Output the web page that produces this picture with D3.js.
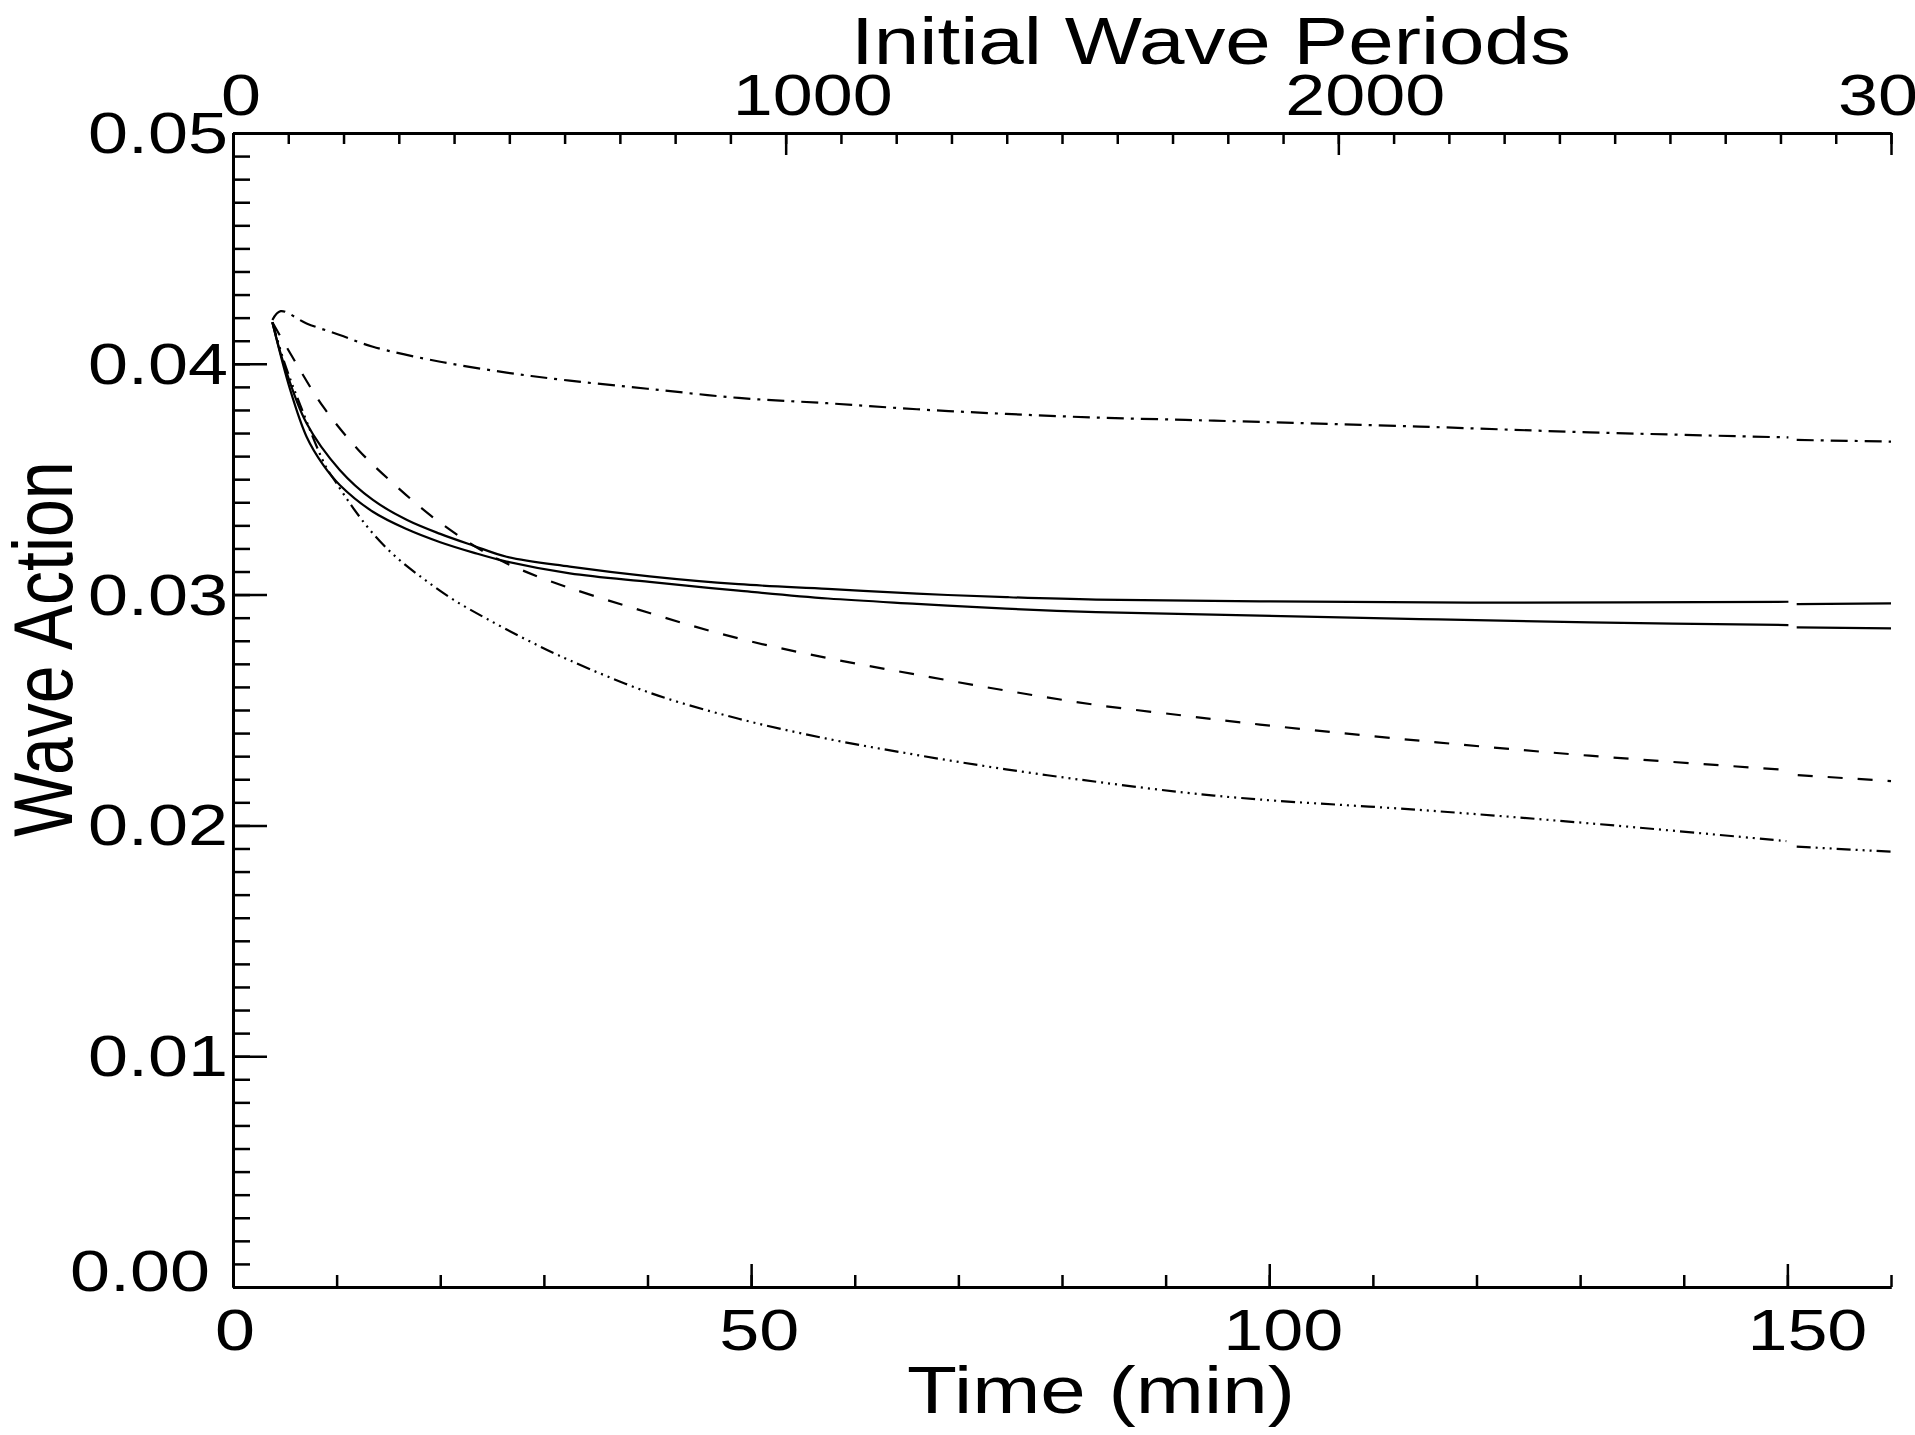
<!DOCTYPE html>
<html>
<head>
<meta charset="utf-8">
<script src="https://cdn.jsdelivr.net/npm/d3@7"></script>
<style>
  html, body { margin: 0; padding: 0; background: #fff; }
  svg { display: block; }
  text { font-family: "Liberation Sans", Arial, Helvetica, sans-serif; fill: #000; }
</style>
</head>
<body>
<svg id="chart" width="1915" height="1435"></svg>
<script>
// ---------------- data ----------------
const xTickLabels = [0, 50, 100, 150];          // Time (min)
const topTickLabels = [0, 1000, 2000, 3000];    // Initial wave periods
const yTickLabels = [0.00, 0.01, 0.02, 0.03, 0.04, 0.05];

// dash-dot series (top curve)
const tDashDot = [3.8, 4.6, 7.1, 10.3, 13.5, 20.0, 26.4, 32.5, 40.2, 48.8, 57.4, 66.0, 74.6, 83.3, 91.9, 99.1, 114.5, 130.9, 150.1, 150.9, 160.0];
const vDashDot = [0.0419, 0.04228, 0.04175, 0.04125, 0.04074, 0.04009, 0.03962, 0.03927, 0.03891, 0.03852, 0.03829, 0.03803, 0.03783, 0.03767, 0.03757, 0.03748, 0.03728, 0.03703, 0.03681, 0.03670, 0.03663];

// solid series, upper
const tSolidA = [3.8, 4.9, 7.1, 10.3, 13.5, 16.8, 20.0, 23.2, 26.4, 32.5, 40.2, 48.8, 57.4, 66.0, 74.6, 83.3, 99.1, 122.7, 150.1, 150.9, 160.0];
const vSolidA = [0.0418, 0.0400, 0.03742, 0.0354, 0.0341, 0.03323, 0.03263, 0.03212, 0.03164, 0.03121, 0.03079, 0.03045, 0.03025, 0.03004, 0.02989, 0.02978, 0.02971, 0.02965, 0.02969, 0.02959, 0.02962];

// solid series, lower
const tSolidB = [3.8, 5.5, 7.1, 8.7, 10.3, 13.5, 16.8, 20.0, 23.2, 26.4, 32.5, 40.2, 48.8, 57.4, 66.0, 74.6, 83.3, 99.1, 114.5, 130.9, 150.1, 150.9, 160.0];
const vSolidB = [0.0418, 0.0389, 0.03684, 0.03562, 0.03475, 0.03359, 0.03283, 0.03227, 0.03182, 0.03143, 0.03092, 0.03055, 0.03017, 0.02983, 0.0296, 0.02939, 0.02924, 0.02909, 0.02894, 0.0288, 0.02868, 0.02858, 0.02854];

// dashed series
const tDashed = [3.8, 6.0, 8.7, 12.1, 15.8, 19.65, 24.5, 29.6, 40.2, 48.8, 57.4, 66.0, 74.6, 83.3, 91.9, 99.1, 114.5, 130.9, 150.0, 151.0, 160.0];
const vDashed = [0.0418, 0.04009, 0.03814, 0.03627, 0.03468, 0.03323, 0.03179, 0.03075, 0.0292, 0.0281, 0.02725, 0.02653, 0.02584, 0.02522, 0.02475, 0.02437, 0.02367, 0.02302, 0.0224, 0.02218, 0.02192];

// dash-dot-dot-dot series (bottom curve)
const tDashDot3 = [3.8, 5.0, 6.5, 8.9, 10.0, 11.6, 13.5, 15.8, 18.4, 21.3, 24.5, 28.3, 32.5, 40.2, 48.8, 57.4, 66.0, 74.6, 83.3, 91.9, 99.1, 114.5, 130.9, 149.9, 150.9, 160.0];
const vDashDot3 = [0.0418, 0.0400, 0.0382, 0.0356, 0.03482, 0.03375, 0.03265, 0.0316, 0.03068, 0.02977, 0.02895, 0.02805, 0.02715, 0.02575, 0.02462, 0.02375, 0.02305, 0.02243, 0.02189, 0.02142, 0.02112, 0.02067, 0.02009, 0.01932, 0.01908, 0.01886];

const restartTime = 150.5; // output restarts here, leaving a small gap in every curve

const series = [
  { t: tDashDot,  v: vDashDot,  dash: "17,7,3,7" },
  { t: tSolidA,   v: vSolidA,   dash: null },
  { t: tSolidB,   v: vSolidB,   dash: null },
  { t: tDashed,   v: vDashed,   dash: "15,15" },
  { t: tDashDot3, v: vDashDot3, dash: "14,5,2,5,2,5,2,5" }
];

// ---------------- layout ----------------
const L = 233, R = 1891, T = 133, B = 1287;
const STRETCH = 1.24;
const svg = d3.select("#chart");

const x = d3.scaleLinear().domain([0, 160]).range([L, R]);
const xTop = d3.scaleLinear().domain([0, 3000]).range([L, R]);
const y = d3.scaleLinear().domain([0, 0.05]).range([B, T]);

// ---- axes (ticks drawn inward) ----
function styleAxis(g) {
  g.select(".domain").attr("stroke", "#000").attr("stroke-width", 3);
  g.selectAll(".tick line").attr("stroke", "#000").attr("stroke-width", 2.5);
  g.selectAll(".tick text").remove();
}

// bottom: minor every 10, major every 50
svg.append("g").attr("transform", `translate(0,${B})`)
  .call(d3.axisBottom(x).tickValues(d3.range(0, 161, 10)).tickSizeInner(-12).tickSizeOuter(0).tickFormat(""))
  .call(styleAxis);
svg.append("g").attr("transform", `translate(0,${B})`)
  .call(d3.axisBottom(x).tickValues(xTickLabels).tickSizeInner(-23).tickSizeOuter(0).tickFormat(""))
  .call(styleAxis);

// top: minor every 100, major every 1000
svg.append("g").attr("transform", `translate(0,${T})`)
  .call(d3.axisTop(xTop).tickValues(d3.range(0, 3001, 100)).tickSizeInner(-11).tickSizeOuter(0).tickFormat(""))
  .call(styleAxis);
svg.append("g").attr("transform", `translate(0,${T})`)
  .call(d3.axisTop(xTop).tickValues(topTickLabels).tickSizeInner(-22).tickSizeOuter(0).tickFormat(""))
  .call(styleAxis);

// left: minor every 0.001, major every 0.01
svg.append("g").attr("transform", `translate(${L},0)`)
  .call(d3.axisLeft(y).tickValues(d3.range(0, 51).map(i => i / 1000)).tickSizeInner(-17).tickSizeOuter(0).tickFormat(""))
  .call(styleAxis);
svg.append("g").attr("transform", `translate(${L},0)`)
  .call(d3.axisLeft(y).tickValues(yTickLabels).tickSizeInner(-34).tickSizeOuter(0).tickFormat(""))
  .call(styleAxis);

// ---- stretched text helper ----
function stretchedText(px, py, str, size, anchor, rotate) {
  const g = svg.append("g")
    .attr("transform", `translate(${px},${py}) scale(${STRETCH},1)` + (rotate ? ` rotate(${rotate})` : ""));
  return g.append("text").attr("x", 0).attr("y", 0)
    .attr("text-anchor", anchor).attr("font-size", size).text(str);
}

// bottom tick labels
xTickLabels.forEach(v => {
  stretchedText(x(v) + 2 + v * 0.12, 1350, d3.format("d")(v), 58, "middle");
});
// top tick labels
topTickLabels.forEach(v => {
  stretchedText(xTop(v) + (v === 0 ? 8 : 27), 115, d3.format("d")(v), 58, "middle");
});
// left tick labels
yTickLabels.forEach(v => {
  const zero = v === 0;
  stretchedText(zero ? 210 : 228, y(v) + (zero ? 4 : 20), d3.format(".2f")(v), 58, "end");
});

// titles
stretchedText(1211, 64, "Initial Wave Periods", 66, "middle");
stretchedText(1101, 1413, "Time (min)", 66, "middle");
stretchedText(72, 649, "Wave Action", 68, "middle", -90);

// ---- curves ----
const line = d3.line().x(d => x(d[0])).y(d => y(d[1])).curve(d3.curveCatmullRom.alpha(0.5));

series.forEach(s => {
  const pts = s.t.map((t, i) => [t, s.v[i]]);
  const segs = [pts.filter(p => p[0] < restartTime), pts.filter(p => p[0] >= restartTime)];
  segs.forEach(seg => {
    svg.append("path")
      .attr("d", line(seg))
      .attr("fill", "none")
      .attr("stroke", "#000")
      .attr("stroke-width", 2.2)
      .attr("stroke-dasharray", s.dash)
      .attr("stroke-linecap", "butt");
  });
});
</script>
</body>
</html>
